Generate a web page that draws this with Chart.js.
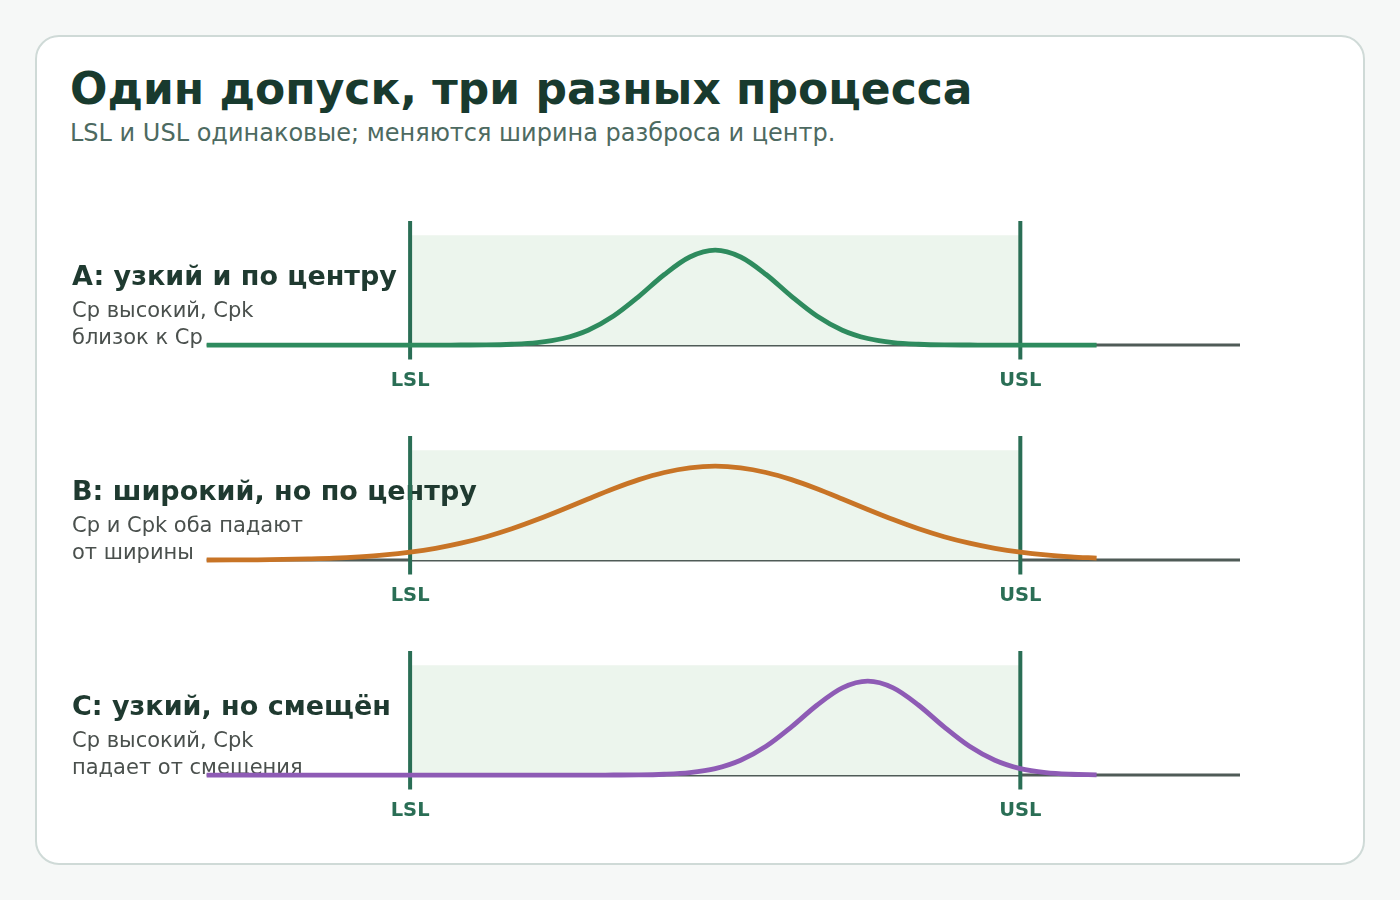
<!DOCTYPE html>
<html lang="ru">
  <head>
    <meta charset="UTF-8" />
    <title>Один допуск, три разных процесса</title>
    <script src="https://cdn.jsdelivr.net/npm/chart.js"></script>
    <style>
      body { margin: 0; width: 1400px; height: 900px; background: #f6f8f7; font-family: "DejaVu Sans", sans-serif; position: relative; overflow: hidden; }
      .card { position: absolute; left: 35px; top: 35px; width: 1326px; height: 826px; background: #fff; border: 2px solid #cfdad7; border-radius: 24px; }
      .t { position: absolute; line-height: 1; white-space: nowrap; }
      .title { left: 70px; top: 67px; font-size: 44px; font-weight: bold; color: #183a2e; }
      .sub { left: 70px; top: 121px; font-size: 24px; color: #4d6a61; }
      .plot { position: absolute; left: 40px; width: 1220px; height: 192px; }
    </style>
  </head>
  <body>
    <div class="card"></div>
    <div class="t title">Один допуск, три разных процесса</div>
    <div class="t sub">LSL и USL одинаковые; меняются ширина разброса и центр.</div>
    <div id="panels"></div>

    <script>
      // x positions of the sampled curves
      const xs = [0, 0.25, 0.5, 0.75, 1, 1.25, 1.5, 1.75, 2, 2.25, 2.5, 2.75, 3, 3.25, 3.5, 3.75, 4, 4.25,
                  4.5, 4.75, 5, 5.25, 5.5, 5.75, 6, 6.25, 6.5, 6.75, 7, 7.25, 7.5, 7.75, 8, 8.25, 8.5, 8.75];
      const curveA = [0, 0, 0, 0, 0, 0, 0, 0, 0, 0, 0.001, 0.002, 0.008, 0.023, 0.06, 0.136, 0.265, 0.444,
                      0.643, 0.802, 0.864, 0.802, 0.643, 0.444, 0.265, 0.136, 0.06, 0.023, 0.008, 0.002, 0.001, 0, 0, 0, 0, 0];
      const curveB = [0.001, 0.002, 0.003, 0.006, 0.011, 0.018, 0.03, 0.047, 0.072, 0.107, 0.154, 0.213, 0.285, 0.369, 0.461, 0.557, 0.65, 0.733,
                      0.798, 0.84, 0.855, 0.84, 0.798, 0.733, 0.65, 0.557, 0.461, 0.369, 0.285, 0.213, 0.154, 0.107, 0.072, 0.047, 0.03, 0.018];
      const curveC = [0, 0, 0, 0, 0, 0, 0, 0, 0, 0, 0, 0, 0, 0, 0, 0, 0.001, 0.002,
                      0.008, 0.023, 0.059, 0.135, 0.262, 0.439, 0.636, 0.794, 0.855, 0.794, 0.636, 0.439, 0.262, 0.135, 0.059, 0.023, 0.008, 0.002];
      const specValues = [2, 8];
      const specLabels = ["LSL", "USL"];
      const panelTitles = ["A: узкий и по центру", "B: широкий, но по центру", "C: узкий, но смещён"];
      const panelNotes = [
        ["Cp высокий, Cpk", "близок к Cp"],
        ["Cp и Cpk оба падают", "от ширины"],
        ["Cp высокий, Cpk", "падает от смещения"],
      ];
      const curves = [curveA, curveB, curveC];
      const colors = ["#2e8b5e", "#c87426", "#8e5bb5"];

      const specColor = "#2a6e55";
      const holder = document.getElementById("panels");

      // panel label drawn over the tolerance band, under the limit lines and curve
      const panelText = {
        id: "panelText",
        afterDatasetDraw(chart, args, opts) {
          if (args.index !== 3) return;
          const ctx = chart.ctx;
          ctx.save();
          ctx.textBaseline = "alphabetic";
          ctx.textAlign = "left";
          ctx.fillStyle = "#1f3a30";
          ctx.font = "bold 27px 'DejaVu Sans'";
          ctx.fillText(opts.title, 32, 74);
          ctx.fillStyle = "#4a504d";
          ctx.font = "21px 'DejaVu Sans'";
          opts.notes.forEach((line, j) => ctx.fillText(line, 32, 106 + 27 * j));
          ctx.restore();
        },
      };

      curves.forEach((curve, i) => {
        const box = document.createElement("div");
        box.className = "plot";
        box.style.top = (211 + 215 * i) + "px";
        const cv = document.createElement("canvas");
        cv.width = 1220;
        cv.height = 192;
        box.appendChild(cv);
        holder.appendChild(box);

        new Chart(cv, {
          type: "line",
          data: {
            datasets: [
              {
                data: xs.map((x, k) => ({ x: x, y: curve[k] })),
                borderColor: colors[i],
                borderWidth: 4.8,
                cubicInterpolationMode: "monotone",
                pointRadius: 0,
                order: 0,
                clip: false,
              },
              {
                data: [{ x: specValues[0], y: -0.13 }, { x: specValues[0], y: 1.13 }],
                borderColor: specColor,
                borderWidth: 4,
                pointRadius: 0,
                order: 1,
                clip: false,
              },
              {
                data: [{ x: specValues[1], y: -0.13 }, { x: specValues[1], y: 1.13 }],
                borderColor: specColor,
                borderWidth: 4,
                pointRadius: 0,
                order: 1,
                clip: false,
              },
              {
                // tolerance band
                data: [{ x: specValues[0], y: 1 }, { x: specValues[1], y: 1 }],
                borderWidth: 0,
                backgroundColor: "#ecf5ed",
                fill: { value: 0 },
                pointRadius: 0,
                order: 2,
              },
              {
                data: [{ x: 0, y: 0 }, { x: 10.16, y: 0 }],
                borderColor: "#4f5b57",
                borderWidth: 3,
                pointRadius: 0,
                order: 3,
                clip: false,
              },
            ],
          },
          options: {
            responsive: false,
            animation: false,
            layout: { padding: { left: 166.7, right: 20, top: 10, bottom: 0 } },
            plugins: {
              legend: { display: false },
              tooltip: { enabled: false },
              panelText: { title: panelTitles[i], notes: panelNotes[i] },
            },
            scales: {
              x: {
                type: "linear",
                min: 0,
                max: 10.16,
                grid: { display: false, drawTicks: false },
                border: { display: false },
                afterBuildTicks: (axis) => {
                  axis.ticks = specValues.map((v) => ({ value: v }));
                },
                ticks: {
                  padding: 10.1,
                  color: specColor,
                  font: { family: "DejaVu Sans", size: 19.5, weight: "bold" },
                  maxRotation: 0,
                  autoSkip: false,
                  callback: (v) => specLabels[specValues.indexOf(v)],
                },
              },
              y: { display: false, min: -0.13, max: 1.13 },
            },
          },
          plugins: [panelText],
        });
      });
    </script>
  </body>
</html>
